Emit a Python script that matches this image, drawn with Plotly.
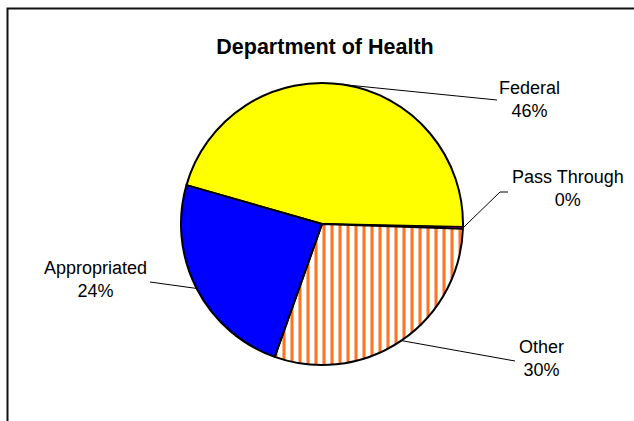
import math
import plotly.graph_objects as go

# ---- data ----
labels = ["Federal", "Pass Through", "Other", "Appropriated"]
values = [45.9, 0.2, 29.9, 24.0]
colors = ["#FFFF00", "#FF00FF", "#FFFFFF", "#0000FF"]
patterns = ["", "", "|", ""]
title_text = "Department of Health"

# label block centres (pixels) and leader-line tails
label_pos = {"Federal": (529, 99), "Pass Through": (568, 189),
             "Other": (541, 358), "Appropriated": (95, 279)}
line_tail = {"Federal": [(497, 100)], "Pass Through": [(500, 192), (508, 192)],
             "Other": [(515, 361)], "Appropriated": [(150, 282)]}

W, H = 634, 421
CX, CY, R = 322, 224, 141
ROT = -74.0


def px(x):
    return x / W


def py(y):
    return 1 - y / H


fig = go.Figure(go.Pie(
    labels=labels, values=values, sort=False, direction="clockwise",
    rotation=ROT, textinfo="none", hoverinfo="label+percent",
    marker=dict(colors=colors, line=dict(color="black", width=[2, 1, 2, 2]),
                pattern=dict(shape=patterns, fgcolor="#FF7322", size=8, solidity=0.38)),
    domain=dict(x=[px(CX - R), px(CX + R)], y=[py(CY + R), py(CY - R)]),
    showlegend=False,
))

total = sum(values)
cum = 0.0
annotations = []
shapes = []
for lab, v in zip(labels, values):
    mid = ROT + (cum + v / 2) / total * 360
    cum += v
    a = math.radians(mid)
    hx, hy = CX + R * math.sin(a), CY - R * math.cos(a)
    pts = [(hx, hy)] + line_tail[lab]
    path = "M " + " L ".join(f"{px(x)},{py(y)}" for x, y in pts)
    shapes.append(dict(type="path", xref="paper", yref="paper", path=path,
                       line=dict(color="black", width=1)))
    pct = round(v / total * 100)
    lx, ly = label_pos[lab]
    annotations.append(dict(x=px(lx), y=py(ly), xref="paper", yref="paper",
                            text=f"{lab}<br>{pct}%", showarrow=False, align="center",
                            xanchor="center", yanchor="middle",
                            font=dict(family="Liberation Sans, Arial, sans-serif", size=18, color="black")))

# outer frame
shapes.append(dict(type="rect", xref="paper", yref="paper",
                   x0=px(7.5), x1=1.05, y0=-0.05, y1=py(8.5),
                   line=dict(color="#111", width=2), fillcolor="rgba(0,0,0,0)"))

fig.update_layout(
    width=W, height=H, margin=dict(l=0, r=0, t=0, b=0),
    paper_bgcolor="white", plot_bgcolor="white",
    title=dict(text=f"<b>{title_text}</b>", x=px(325), y=py(46), xanchor="center", yanchor="middle",
               font=dict(family="Liberation Sans, Arial, sans-serif", size=21.5, color="black")),
    annotations=annotations, shapes=shapes,
)

fig.write_html("out.html", config={"displayModeBar": False},
               post_script="document.body.style.margin='0';document.body.style.overflow='hidden';")
